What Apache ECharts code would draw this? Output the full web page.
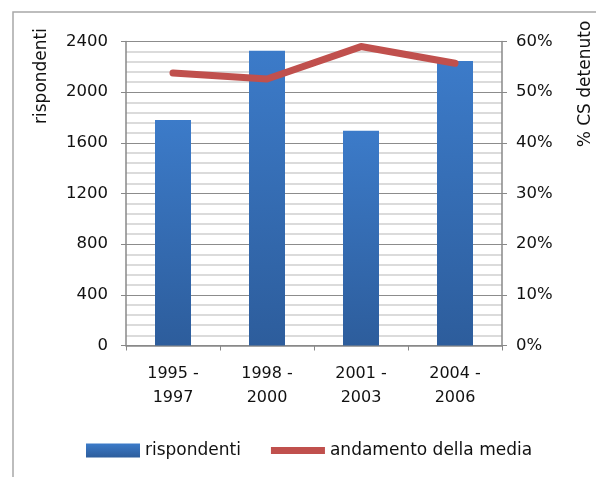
<!DOCTYPE html>
<html><head><meta charset="utf-8">
<script src="https://cdn.jsdelivr.net/npm/echarts@6/dist/echarts.min.js"></script>
<style>html,body{margin:0;padding:0;background:#fff}#c{width:596px;height:477px}</style>
</head><body><div id="c"></div>
<script>
const categories = ['1995 -\n1997', '1998 -\n2000', '2001 -\n2003', '2004 -\n2006'];
const respondents = [1780, 2327, 1696, 2246];
const meanTrend = [0.538, 0.526, 0.590, 0.557];
const leftTicks = [0, 400, 800, 1200, 1600, 2000, 2400];
const rightTicks = [0, 0.1, 0.2, 0.3, 0.4, 0.5, 0.6];

const font = 'DejaVu Sans';
const fs = 16.5;
const chart = echarts.init(document.getElementById('c'), null, {renderer: 'canvas'});
chart.setOption({
  backgroundColor: '#fff',
  animation: false,
  textStyle: {fontFamily: font},
  grid: {left: 126, right: 94, top: 41.5, bottom: 131.5, containLabel: false},
  graphic: [
    {type: 'rect', shape: {x: 13, y: 12, width: 620, height: 500}, style: {fill: 'none', stroke: '#a8a8a8', lineWidth: 1.5}, silent: true},
    {type: 'text', x: 42, y: 76, rotation: Math.PI / 2,
      style: {text: 'rispondenti', font: '17px "DejaVu Sans"', fill: '#111', align: 'center', verticalAlign: 'middle'}},
    {type: 'text', x: 586, y: 84, rotation: Math.PI / 2,
      style: {text: '% CS detenuto', font: '17px "DejaVu Sans"', fill: '#111', align: 'center', verticalAlign: 'middle'}}
  ],
  legend: {
    left: 86, top: 442, padding: 0, itemWidth: 54, itemHeight: 14, itemGap: 30,
    symbolKeepAspect: false,
    textStyle: {fontFamily: font, fontSize: 17, color: '#111'},
    data: [
      {name: 'rispondenti', icon: 'rect'},
      {name: 'andamento della media', icon: 'path://M0,0L1,0Z M0,3.5L58,3.5L58,10.5L0,10.5Z M0,14L1,14Z',
        itemStyle: {color: '#c0504d', borderWidth: 0}}
    ]
  },
  xAxis: {
    type: 'category', data: categories, boundaryGap: true,
    axisLine: {lineStyle: {color: '#888', width: 1.5}},
    axisTick: {show: true, alignWithLabel: false, length: 5, lineStyle: {color: '#888'}},
    axisLabel: {fontFamily: font, fontSize: 16, color: '#111', lineHeight: 24, margin: 16}
  },
  yAxis: [
    {
      type: 'value', min: leftTicks[0], max: leftTicks[leftTicks.length - 1], interval: 400,
      axisLine: {show: true, lineStyle: {color: '#888', width: 1.5}},
      axisTick: {show: true, length: 5, lineStyle: {color: '#888'}},
      axisLabel: {fontFamily: font, fontSize: fs, color: '#111', margin: 18, formatter: v => String(v)},
      splitLine: {show: true, lineStyle: {color: '#8c8c8c', width: 1}},
      minorTick: {show: false, splitNumber: 5},
      minorSplitLine: {show: true, lineStyle: {color: '#cfcfcf', width: 1.5}}
    },
    {
      type: 'value', min: rightTicks[0], max: rightTicks[rightTicks.length - 1], interval: 0.1,
      axisLine: {show: true, lineStyle: {color: '#888', width: 1.5}},
      axisTick: {show: true, length: 5, lineStyle: {color: '#888'}},
      axisLabel: {fontFamily: font, fontSize: fs, color: '#111', margin: 14,
        formatter: v => Math.round(v * 100) + '%'},
      splitLine: {show: false}
    }
  ],
  series: [
    {
      name: 'rispondenti', type: 'bar', data: respondents, barWidth: 36, yAxisIndex: 0,
      itemStyle: {color: new echarts.graphic.LinearGradient(0, 0, 0, 1, [
        {offset: 0, color: '#3c7bc9'}, {offset: 1, color: '#2d5d9c'}])}
    },
    {
      name: 'andamento della media', type: 'line', data: meanTrend, yAxisIndex: 1,
      symbol: 'none', lineStyle: {color: '#c0504d', width: 7, cap: 'round', join: 'round'},
      itemStyle: {color: '#c0504d'}
    }
  ]
});
</script></body></html>
